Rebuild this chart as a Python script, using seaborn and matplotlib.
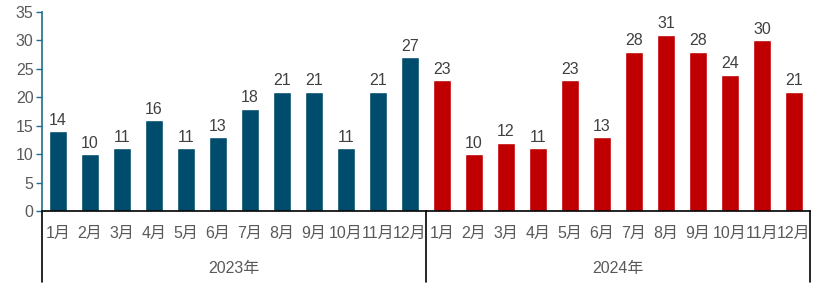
import matplotlib
matplotlib.use("Agg")
import matplotlib.pyplot as plt
import matplotlib.transforms as mtransforms
import seaborn as sns
import pandas as pd

months = ["1月", "2月", "3月", "4月", "5月", "6月", "7月", "8月", "9月", "10月", "11月", "12月"]
years = ["2023年", "2024年"]
values_2023 = [14, 10, 11, 16, 11, 13, 18, 21, 21, 11, 21, 27]
values_2024 = [23, 10, 12, 11, 23, 13, 28, 31, 28, 24, 30, 21]
colors = {"2023年": "#004C6D", "2024年": "#C00000"}

rows = []
for y, vals in zip(years, [values_2023, values_2024]):
    for m, v in zip(months, vals):
        rows.append({"slot": f"{y}-{m}", "year": y, "month": m, "value": v})
df = pd.DataFrame(rows)

sns.set_theme(style="white")
plt.rcParams['font.family'] = ['Liberation Sans', 'Noto Sans CJK SC', 'DejaVu Sans']

fig = plt.figure(figsize=(8.31, 2.93), dpi=100)
ax = fig.add_axes([42/831, 1-211/293, (810-42)/831, (211-12)/293])

sns.barplot(data=df, x="slot", y="value", hue="year", palette=colors,
            dodge=False, width=0.56, legend=False, ax=ax, saturation=1)

ax.set_xlim(-0.5, len(df) - 0.5)
ax.set_ylim(0, 35)
ax.set_yticks(range(0, 36, 5))
ax.set_xlabel("")
ax.set_ylabel("")

for i, v in enumerate(df["value"]):
    ax.text(i, v + 0.6, str(v), ha="center", va="bottom", fontsize=11.5, color="#404040")

ax.set_xticks(range(len(df)))
ax.set_xticklabels(df["month"], fontsize=11.5, color="#595959")
ax.tick_params(axis="x", length=0, pad=11)
ax.tick_params(axis="y", labelsize=11.5, labelcolor="#595959", length=4, width=1,
               color="#1F6E8C", direction="out", left=True, pad=2)

for s in ["top", "right"]:
    ax.spines[s].set_visible(False)
ax.spines["left"].set_color("#1F6E8C")
ax.spines["left"].set_linewidth(1.2)
ax.spines["bottom"].set_color("#000000")
ax.spines["bottom"].set_linewidth(1.2)

trans = mtransforms.blended_transform_factory(ax.transData, ax.transAxes)
for xpos in [-0.5, 11.5, 23.5]:
    ax.plot([xpos, xpos], [0, -0.357], transform=trans, color="#000000", lw=1.2, clip_on=False)

for k, y in enumerate(years):
    ax.text(k * 12 + 5.5, -0.29, y, transform=trans, ha="center", va="center",
            fontsize=11.5, color="#595959")

fig.savefig("out.png", dpi=100)
